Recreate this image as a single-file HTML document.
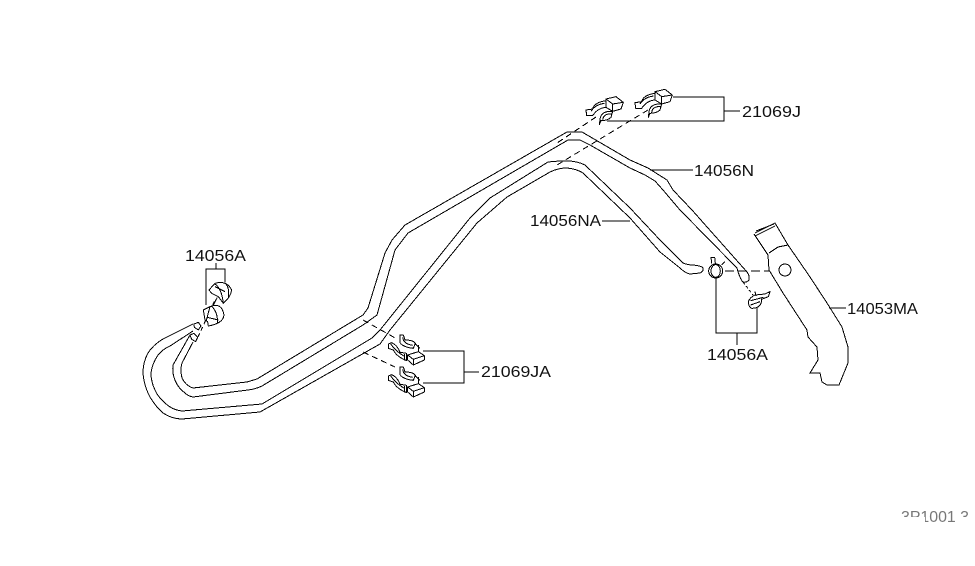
<!DOCTYPE html>
<html><head><meta charset="utf-8"><style>
html,body{margin:0;padding:0;background:#fff;width:975px;height:566px;overflow:hidden}
svg{display:block;shape-rendering:crispEdges}
text{font-family:"Liberation Sans",sans-serif;font-size:15.5px;fill:#111}
.l{fill:none;stroke:#000;stroke-width:1}
.d{fill:none;stroke:#000;stroke-width:1;stroke-dasharray:6 4}
.z{fill:#fff;stroke:#000;stroke-width:3;stroke-linejoin:round}
.n{fill:none;stroke:#000;stroke-width:3}
</style></head><body>
<svg width="975" height="566" viewBox="0 0 975 566" xmlns="http://www.w3.org/2000/svg">
<g class="l">
<!-- Upper tube 14056N -->
<path d="M193 324L163 339Q153 345 148 353Q143 362 143 373Q144 386 150 397Q156 407 163 413Q172 419 182 419L260 412L380 344L390 330L477 223L507 197L550 172Q558 168 567 168Q577 169 583 173L630 218L660 252L680 268Q685 273 690 274L700 273Q704 271 703 268Q702 266 693 265Q688 265 683 263L660 240L630 208L585 165Q577 161 567 161Q556 161 548 162L490 198L470 218L380 330L372 338L262 404L182 411Q172 410 165 403Q158 397 155 390Q151 382 151 373Q152 364 158 355Q163 349 170 346L193 331" />
<!-- Inner tube / second run -->
<path d="M190 335L173 365Q172 373 175 380Q178 388 185 393Q188 396 193 397L248 390Q256 389 262 386L363 325L377 315L395 250L408 233L568 140H580L590 145L630 168L645 175L655 181L663 190L680 210L737 268Q739 276 742 281Q745 284 749 280Q750 276 747 272L692 210L673 190L667 180L648 168L630 160L582 132H567L405 225L392 240L385 253L368 308L363 315L257 379L247 382L193 388Q186 386 182 378Q180 370 182 363L193 342" />
<!-- Leaders and brackets -->
<path d="M216 263V269M206 305V269H225V282" />
<path d="M673 97H724V121H607M724 111H740" />
<path d="M650 170H693" />
<path d="M602 221H630" />
<path d="M423 351H464V383H423M464 372H479" />
<path d="M716 278V333H757V308M737 333V345" />
<path d="M829 308H846" />
<!-- Filler pipe 14053MA -->
<path d="M754 234L758 240L768 255L769 270L783 293L807 330L808 337L817 347L818 360L810 373H820L822 382L827 385H839L848 363V347L842 327L827 303L810 277L788 245L775 223L755 233" />
<path d="M769 253L778 247L788 245M756 231L774 224M755 236L775 226" />
<circle cx="785" cy="270" r="6" />
</g>
<!-- Dashed centre lines -->
<g class="d">
<path d="M596 117L557 143" />
<path d="M648 110L557 165" />
<path d="M363 320L397 339" />
<path d="M363 352L395 367" />
<path d="M725 271H770" stroke-dasharray="9 4" />
<path d="M743 282L753 295" stroke-dasharray="3 2" />
<path d="M198 337L215 300" stroke-dasharray="4 3" />
</g>
<!-- 14056A left clips (zoom coordinates) -->
<g transform="translate(130 240) scale(.3333)">
<path class="z" d="M237 150L255 130Q290 120 305 150Q303 170 280 190L265 170L245 160Z"/>
<path class="n" d="M255 132Q275 145 280 190M285 128Q300 145 295 172M255 140L285 155M262 172L250 195"/>
<path class="z" d="M220 210L240 200Q275 185 282 225Q280 250 235 258L233 245L225 240Z"/>
<path class="n" d="M245 198Q265 220 262 250M240 200L228 245M232 232L265 240"/>
<path class="z" d="M192 252L205 247L213 258L205 270L193 262Z"/>
<path class="z" d="M180 285L192 280L203 292L197 305L185 298Z"/>
</g>
<!-- 21069JA clips -->
<g transform="translate(360 320) scale(.3333)">
<g id="ja">
<path class="z" d="M120 45V68Q130 82 160 85L166 70Q160 60 135 60L130 45Z"/>
<path class="n" d="M128 52Q130 72 158 76"/>
<path class="z" d="M85 72V85L100 90Q110 110 140 122V100L120 97Q112 75 95 68Z"/>
<path class="n" d="M92 72Q108 95 135 110"/>
<path class="n" d="M175 75V95M133 102V122M165 70L180 85"/>
<path class="z" d="M143 105L175 95L193 107V120L160 135L143 120Z"/>
<path class="n" d="M143 105L160 118L193 107M160 118V135"/>
</g>
<use href="#ja" y="96"/>
</g>
<!-- 21069J clips -->
<g transform="translate(540 80) scale(.3333)">
<g id="j">
<path class="z" d="M285 68L305 65Q310 45 345 40V60Q320 62 305 85L287 85Z"/>
<path class="n" d="M300 72Q312 52 340 48"/>
<path class="z" d="M325 112L328 90Q335 70 365 72L360 90Q350 100 330 100Z"/>
<path class="n" d="M335 97Q338 78 362 80"/>
<path class="z" d="M345 35L375 28L397 45L390 65L365 72L345 60Z"/>
<path class="n" d="M345 35L365 50L397 45M365 50V72"/>
</g>
<use href="#j" x="-147" y="22"/>
</g>
<!-- 14056A right clamps -->
<g transform="translate(660 210) scale(.3333)">
<path class="n" d="M155 160L153 142H164L166 160M185 165L195 155"/>
<circle class="z" cx="167" cy="183" r="21"/>
<ellipse class="n" cx="167" cy="183" rx="14" ry="19"/>
<path class="z" d="M265 275Q270 262 285 255L315 252L330 245L325 260L305 268Q305 295 275 295Q265 290 265 275Z"/>
<path class="n" d="M272 272L310 262M285 245L288 258M272 285L300 275"/>
</g>
<!-- Labels -->
<text x="185" y="261" textLength="61" lengthAdjust="spacingAndGlyphs">14056A</text>
<text x="742" y="117" textLength="59" lengthAdjust="spacingAndGlyphs">21069J</text>
<text x="694" y="176" textLength="60" lengthAdjust="spacingAndGlyphs">14056N</text>
<text x="530" y="226" textLength="71" lengthAdjust="spacingAndGlyphs">14056NA</text>
<text x="847" y="314" textLength="71" lengthAdjust="spacingAndGlyphs">14053MA</text>
<text x="481" y="377" textLength="70" lengthAdjust="spacingAndGlyphs">21069JA</text>
<text x="707" y="360" textLength="61" lengthAdjust="spacingAndGlyphs">14056A</text>
<text x="901" y="522" textLength="68" lengthAdjust="spacingAndGlyphs" style="fill:#777">3P1001 3</text>
<rect x="899" y="517" width="26" height="7" fill="#fff"/>
<rect x="956" y="517" width="15" height="7" fill="#fff"/>
</svg>
</body></html>
